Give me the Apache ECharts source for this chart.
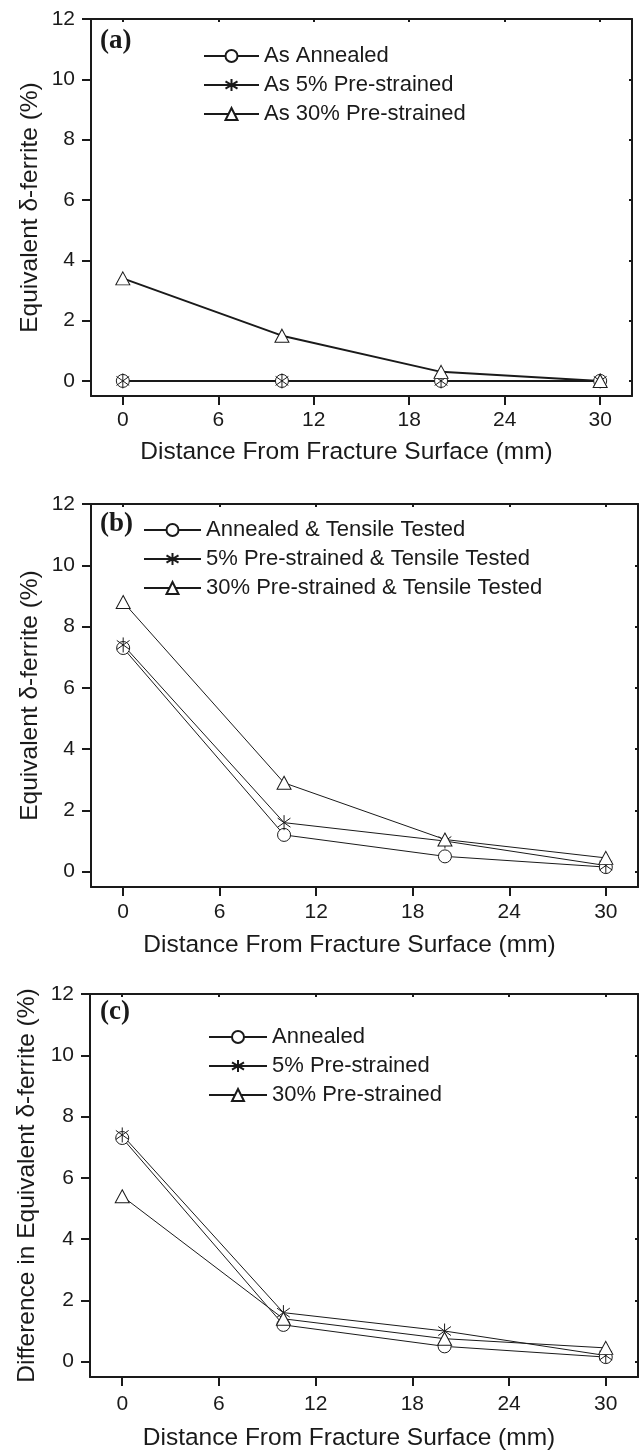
<!DOCTYPE html>
<html><head><meta charset="utf-8">
<script src="https://cdn.jsdelivr.net/npm/echarts@6/dist/echarts.min.js"></script>
<style>html,body{margin:0;padding:0;background:#fff}#c{width:640px;height:1452px}</style>
</head><body><div id="c"></div>
<script>
// ---- data ----
const distances = [0, 10, 20, 30];
const xTicks = [0, 6, 12, 18, 24, 30];
const yTicks = [0, 2, 4, 6, 8, 10, 12];

const namesA = ['As Annealed', 'As 5% Pre-strained', 'As 30% Pre-strained'];
const annealedA = [0, 0, 0, 0];
const pre5A = [0, 0, 0, 0];
const pre30A = [3.4, 1.5, 0.3, 0];

const namesB = ['Annealed & Tensile Tested', '5% Pre-strained & Tensile Tested', '30% Pre-strained & Tensile Tested'];
const annealedB = [7.3, 1.2, 0.5, 0.15];
const pre5B = [7.4, 1.6, 1.0, 0.2];
const pre30B = [8.8, 2.9, 1.05, 0.45];

const namesC = ['Annealed', '5% Pre-strained', '30% Pre-strained'];
const annealedC = [7.3, 1.2, 0.5, 0.15];
const pre5C = [7.4, 1.6, 1.0, 0.2];
const pre30C = [5.4, 1.4, 0.75, 0.45];

const panelLabels = ['(a)', '(b)', '(c)'];
const xName = 'Distance From Fracture Surface (mm)';
const yNames = ['Equivalent δ-ferrite (%)', 'Equivalent δ-ferrite (%)', 'Difference in Equivalent δ-ferrite (%)'];

// ---- layout / style ----
const INK = '#1a1a1a';
const SANS = 'Liberation Sans';
const grids = [
  {left: 91, top: 19, width: 541, height: 377},
  {left: 91, top: 504, width: 547, height: 383},
  {left: 90, top: 994, width: 548, height: 383}
];
const xNameGaps = [44, 46, 49];
const xLabelMargins = [14, 15, 17];
const yNameGaps = [48, 48, 50];
const legendPos = [
  {left: 203, top: 45, itemWidth: 55},
  {left: 143, top: 519, itemWidth: 57},
  {left: 208, top: 1026, itemWidth: 58}
];
const labelTops = [28, 511, 999];
const lineWidths = [[1, 2, 2], [1, 1, 1], [1, 1, 1]];
const STAR = 'path://M0,-10L0,10M-8.5,-6L8.5,6M-8.5,6L8.5,-6';
const symbols = ['circle', STAR, 'triangle'];
const symbolSizes = [13, 15, [14, 13]];

const sets = [
  [namesA, [annealedA, pre5A, pre30A]],
  [namesB, [annealedB, pre5B, pre30B]],
  [namesC, [annealedC, pre5C, pre30C]]
];

const xAxis = [], yAxis = [], series = [], legend = [], title = [];
grids.forEach((g, i) => {
  xAxis.push({
    type: 'value', gridIndex: i, min: -2, max: 32,
    axisLine: {show: true, onZero: false, lineStyle: {color: INK, width: 2}},
    axisTick: {show: true, customValues: xTicks, length: 9, lineStyle: {color: INK, width: 2}},
    axisLabel: {customValues: xTicks, margin: xLabelMargins[i], fontSize: 21, color: INK, fontFamily: SANS},
    splitLine: {show: false},
    name: xName, nameLocation: 'middle', nameGap: xNameGaps[i],
    nameTextStyle: {fontSize: 24.5, color: INK, fontFamily: SANS, padding: [0, 30, 0, 0]}
  });
  xAxis.push({
    type: 'value', gridIndex: i, min: -2, max: 32, position: 'top',
    axisLine: {show: true, onZero: false, lineStyle: {color: INK, width: 2}},
    axisTick: {show: true, inside: true, customValues: xTicks, length: 3, lineStyle: {color: INK, width: 2}},
    axisLabel: {show: false}, splitLine: {show: false}
  });
  yAxis.push({
    type: 'value', gridIndex: i, min: -0.5, max: 12,
    axisLine: {show: true, onZero: false, lineStyle: {color: INK, width: 2}},
    axisTick: {show: true, customValues: yTicks, length: 9, lineStyle: {color: INK, width: 2}},
    axisLabel: {customValues: yTicks, margin: 16, fontSize: 21, color: INK, fontFamily: SANS},
    splitLine: {show: false},
    name: yNames[i], nameLocation: 'middle', nameGap: yNameGaps[i], nameRotate: 90,
    nameMoveOverlap: false,
    nameTextStyle: {fontSize: 24.5, color: INK, fontFamily: SANS}
  });
  yAxis.push({
    type: 'value', gridIndex: i, min: -0.5, max: 12, position: 'right',
    axisLine: {show: true, onZero: false, lineStyle: {color: INK, width: 2}},
    axisTick: {show: true, inside: true, customValues: yTicks, length: 3, lineStyle: {color: INK, width: 2}},
    axisLabel: {show: false}, splitLine: {show: false}
  });
  const [names, vals] = sets[i];
  names.forEach((nm, k) => {
    series.push({
      type: 'line', name: nm, xAxisIndex: 2 * i, yAxisIndex: 2 * i,
      data: distances.map((d, j) => [d, vals[k][j]]),
      symbol: symbols[k], symbolSize: symbolSizes[k], symbolKeepAspect: true,
      showAllSymbol: true, animation: false,
      lineStyle: {color: INK, width: lineWidths[i][k]},
      itemStyle: {color: '#fff', borderColor: INK, borderWidth: 1},
      emphasis: {disabled: true}
    });
  });
  legend.push({
    data: names, orient: 'vertical', left: legendPos[i].left, top: legendPos[i].top,
    itemWidth: legendPos[i].itemWidth, itemHeight: 15, itemGap: 7, padding: 0,
    selectedMode: false,
    textStyle: {fontSize: 22, color: INK, fontFamily: SANS, lineHeight: 22}
  });
  title.push({
    text: panelLabels[i], left: 100, top: labelTops[i], padding: 0,
    textStyle: {fontFamily: 'Liberation Serif', fontWeight: 'bold', fontSize: 27, color: INK}
  });
});

const chart = echarts.init(document.getElementById('c'), null, {renderer: 'canvas'});
chart.setOption({
  animation: false,
  backgroundColor: '#fff',
  grid: grids.map(g => Object.assign({containLabel: false}, g)),
  title, legend, xAxis, yAxis, series
});
</script></body></html>
